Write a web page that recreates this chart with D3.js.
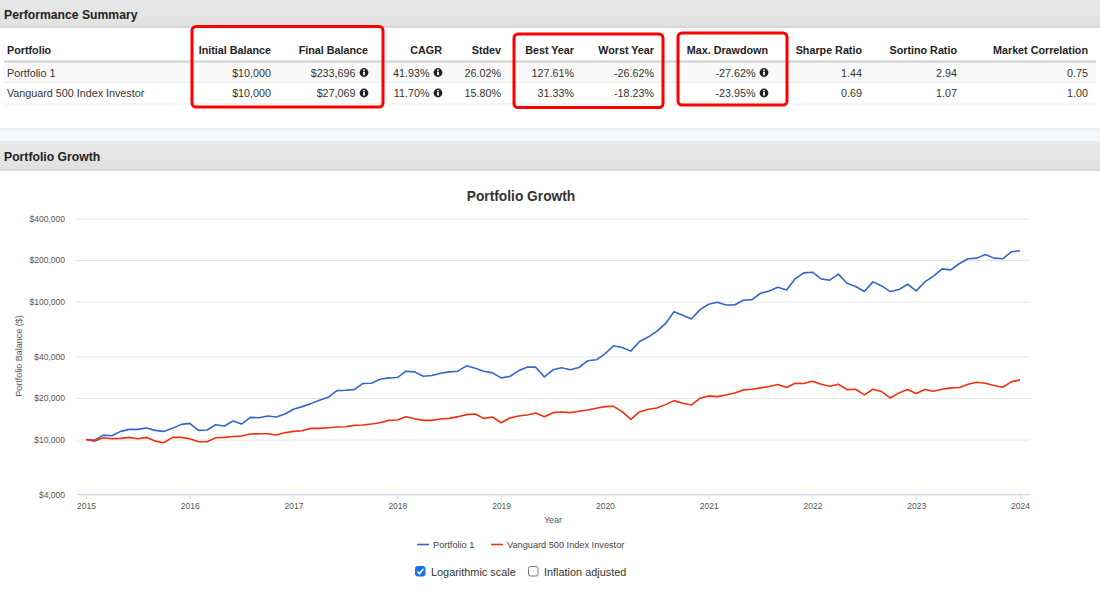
<!DOCTYPE html>
<html lang="en">
<head>
<meta charset="UTF-8">
<title>Portfolio Growth</title>
<script src="https://d3js.org/d3.v7.min.js"></script>
<style>
  html, body { margin: 0; padding: 0; background: #fff; overflow: hidden; }
  svg { display: block; font-family: "Liberation Sans", Arial, sans-serif; }
</style>
</head>
<body>
<script>
// summary table
var columns = ["Portfolio", "Initial Balance", "Final Balance", "CAGR", "Stdev", "Best Year", "Worst Year", "Max. Drawdown", "Sharpe Ratio", "Sortino Ratio", "Market Correlation"];
var rowPortfolio = ["Portfolio 1", "$10,000", "$233,696", "41.93%", "26.02%", "127.61%", "-26.62%", "-27.62%", "1.44", "2.94", "0.75"];
var rowVanguard = ["Vanguard 500 Index Investor", "$10,000", "$27,069", "11.70%", "15.80%", "31.33%", "-18.23%", "-23.95%", "0.69", "1.07", "1.00"];
var infoColumns = ["Final Balance", "CAGR", "Max. Drawdown"];

// chart, monthly balances from Jan 2015 to Jan 2024
var years = [2015, 2016, 2017, 2018, 2019, 2020, 2021, 2022, 2023, 2024];
var balanceTicks = [4000, 10000, 20000, 40000, 100000, 200000, 400000];
var portfolio1 = [
  10000, 9916, 10780, 10663, 11465, 11856, 11860, 12120, 11660, 11465, 12060, 12890,
  13110, 11660, 11725, 12820, 12540, 13630, 12960, 14490, 14410, 14820, 14570, 15320,
  16570, 17330, 18220, 19270, 20260, 22650, 22780, 23030, 25470, 25610, 27380, 28000,
  28160, 31310, 30960, 28800, 29120, 30280, 30960, 31310, 34230, 32920, 31310, 30450,
  28000, 28630, 31480, 33480, 33480, 28470, 32020, 33110, 32020, 33290, 37220, 37850,
  41850, 47850, 46530, 43760, 51450, 55320, 60820, 69160, 84540, 79510, 74780, 87430,
  95600, 98850, 94530, 94530, 102200, 103400, 114900, 119500, 127000, 121500, 146100, 161500,
  163300, 146100, 142900, 158000, 135900, 128500, 118200, 138900, 129900, 118200, 122200, 133600,
  119500, 138900, 152800, 172700, 169800, 188800, 204200, 206500, 219600, 206500, 204200, 229600,
  233696
];
var vanguard500 = [
  10000, 9750, 10310, 10140, 10200, 10370, 10140, 10370, 9750, 9484, 10370, 10370,
  10140, 9643, 9643, 10310, 10370, 10540, 10600, 10965, 11030, 11030, 10780, 11210,
  11465, 11590, 12060, 12060, 12190, 12330, 12400, 12680, 12750, 12960, 13250, 13780,
  13860, 14660, 14170, 13780, 13780, 14090, 14250, 14660, 15160, 15320, 14250, 14570,
  13250, 14330, 14820, 15070, 15580, 14660, 15670, 15850, 15670, 16030, 16390, 16850,
  17330, 17420, 15940, 14020, 15850, 16570, 16940, 17920, 19160, 18320, 17820, 19920,
  20720, 20490, 21070, 21780, 22910, 23160, 23690, 24220, 25050, 23820, 25610, 25470,
  26480, 25190, 24360, 25190, 23030, 23160, 21070, 23160, 22280, 20030, 21780, 23030,
  21540, 23030, 22400, 23160, 23690, 23820, 25190, 26040, 25610, 24630, 23950, 26190,
  27069
];

var width = 1100, height = 592;
var svg = d3.select("body").append("svg").attr("width", width).attr("height", height);

var defs = svg.append("defs");
var grad = defs.append("linearGradient").attr("id", "bar").attr("x1", 0).attr("x2", 0).attr("y1", 0).attr("y2", 1);
grad.append("stop").attr("offset", "0%").attr("stop-color", "#e8e8e8");
grad.append("stop").attr("offset", "100%").attr("stop-color", "#e1e1e1");

function section_bar(y, h, title) {
  svg.append("rect").attr("x", 0).attr("y", y).attr("width", width).attr("height", h).attr("fill", "url(#bar)");
  svg.append("line").attr("x1", 0).attr("x2", width).attr("y1", y + h).attr("y2", y + h)
    .attr("stroke", "#d0d0d0").attr("stroke-width", 1.5);
  svg.append("text").attr("x", 4).attr("y", y + h / 2 + 5)
    .attr("font-size", 12.2).attr("font-weight", "bold").attr("fill", "#222").text(title);
}

section_bar(0, 27, "Performance Summary");
svg.append("rect").attr("x", 0).attr("y", 129).attr("width", width).attr("height", 13).attr("fill", "#f5f7f9");
svg.append("line").attr("x1", 0).attr("x2", width).attr("y1", 129).attr("y2", 129).attr("stroke", "#e2e2e2");
svg.append("line").attr("x1", 0).attr("x2", width).attr("y1", 142).attr("y2", 142).attr("stroke", "#d8d8d8");
section_bar(142.5, 27.5, "Portfolio Growth");

// table
var colRight = [7, 271, 368, 442, 501, 574, 654, 768, 862, 957, 1088];
var rowCenters = [72.5, 93];

svg.append("rect").attr("x", 4).attr("y", 62.5).attr("width", 1092).attr("height", 20).attr("fill", "#f9f9f9");
svg.append("line").attr("x1", 4).attr("x2", 1096).attr("y1", 61.5).attr("y2", 61.5).attr("stroke", "#cfcfcf").attr("stroke-width", 2);
svg.append("line").attr("x1", 4).attr("x2", 1096).attr("y1", 82.5).attr("y2", 82.5).attr("stroke", "#ececec");
svg.append("line").attr("x1", 4).attr("x2", 1096).attr("y1", 104).attr("y2", 104).attr("stroke", "#ececec");

svg.append("g").selectAll("text").data(columns).enter().append("text")
  .attr("x", function (d, i) { return colRight[i]; })
  .attr("y", 54)
  .attr("text-anchor", function (d, i) { return i == 0 ? "start" : "end"; })
  .attr("font-size", 10.75).attr("font-weight", "bold").attr("fill", "#222")
  .text(function (d) { return d; });

function info_icon(g, x, y) {
  g.append("circle").attr("cx", x).attr("cy", y).attr("r", 4.4).attr("fill", "#222");
  g.append("rect").attr("x", x - 0.9).attr("y", y - 0.8).attr("width", 1.8).attr("height", 3.4).attr("fill", "#fff");
  g.append("rect").attr("x", x - 0.9).attr("y", y - 3).attr("width", 1.8).attr("height", 1.4).attr("fill", "#fff");
}

[rowPortfolio, rowVanguard].forEach(function (row, r) {
  var g = svg.append("g");
  row.forEach(function (val, i) {
    var hasInfo = infoColumns.indexOf(columns[i]) >= 0;
    g.append("text")
      .attr("x", colRight[i] - (hasInfo ? 12.5 : 0))
      .attr("y", rowCenters[r] + 4)
      .attr("text-anchor", i == 0 ? "start" : "end")
      .attr("font-size", 10.75).attr("fill", "#333")
      .text(val);
    if (hasInfo) info_icon(g, colRight[i] - 4, rowCenters[r]);
  });
});

// red highlight boxes
var highlights = [[192, 26.5, 191, 80.5], [514, 34, 149, 73.5], [678, 33, 109, 72]];
svg.append("g").selectAll("rect").data(highlights).enter().append("rect")
  .attr("x", function (d) { return d[0]; })
  .attr("y", function (d) { return d[1]; })
  .attr("width", function (d) { return d[2]; })
  .attr("height", function (d) { return d[3]; })
  .attr("rx", 4).attr("fill", "none").attr("stroke", "#f00").attr("stroke-width", 3);

// chart
var x = d3.scaleLinear().domain([2015, 2024]).range([86, 1020]);
var y = d3.scaleLog().domain([4000, 400000]).range([494.5, 218.5]);
var plotLeft = 77, plotRight = 1030;

svg.append("text").attr("x", 521).attr("y", 201).attr("text-anchor", "middle")
  .attr("font-size", 13.75).attr("font-weight", "bold").attr("fill", "#333").text("Portfolio Growth");

var yAxis = svg.append("g").attr("transform", "translate(" + plotLeft + ",0)")
  .call(d3.axisLeft(y).tickValues(balanceTicks)
    .tickFormat(function (d) { return "$" + d3.format(",")(d); })
    .tickSize(-(plotRight - plotLeft)).tickPadding(12));
yAxis.select(".domain").remove();
yAxis.selectAll("line").attr("stroke", "#e6e6e6");
yAxis.selectAll("text").attr("font-size", 8.5).attr("font-family", "inherit").attr("fill", "#555");

var xAxis = svg.append("g").attr("transform", "translate(0,494.5)")
  .call(d3.axisBottom(x).tickValues(years).tickFormat(d3.format("d")).tickSize(5).tickPadding(3));
xAxis.select(".domain").attr("d", "M" + plotLeft + ",0H" + plotRight).attr("stroke", "#ccd6eb");
xAxis.selectAll("line").attr("stroke", "#ccd6eb");
xAxis.selectAll("text").attr("font-size", 8.5).attr("font-family", "inherit").attr("fill", "#555");

svg.append("text").attr("x", 553).attr("y", 523).attr("text-anchor", "middle")
  .attr("font-size", 9).attr("fill", "#555").text("Year");
svg.append("text").attr("transform", "translate(22,356) rotate(-90)").attr("text-anchor", "middle")
  .attr("font-size", 9).attr("fill", "#555").text("Portfolio Balance ($)");

var line = d3.line()
  .x(function (d, i) { return x(2015 + i / 12); })
  .y(function (d) { return y(d); });

var seriesList = [
  { name: "Portfolio 1", values: portfolio1, color: "#3366cc", lx: 417 },
  { name: "Vanguard 500 Index Investor", values: vanguard500, color: "#f0300f", lx: 491 }
];
seriesList.forEach(function (s) {
  svg.append("path").datum(s.values).attr("d", line)
    .attr("fill", "none").attr("stroke", s.color).attr("stroke-width", 1.6).attr("stroke-linejoin", "round");
  svg.append("line").attr("x1", s.lx).attr("x2", s.lx + 12).attr("y1", 544.5).attr("y2", 544.5)
    .attr("stroke", s.color).attr("stroke-width", 1.6);
  svg.append("text").attr("x", s.lx + 16).attr("y", 548)
    .attr("font-size", 9.2).attr("fill", "#444").text(s.name);
});

// the two option checkboxes under the legend
function checkbox(bx, label, checked) {
  svg.append("rect").attr("x", bx + 0.5).attr("y", 566.5).attr("width", 9.5).attr("height", 9.5).attr("rx", 2)
    .attr("fill", checked ? "#1a73e8" : "#fff").attr("stroke", checked ? "#1a73e8" : "#777");
  if (checked) {
    svg.append("path").attr("d", "M" + (bx + 2.5) + ",571.5l2,2.2l3.8,-4.6")
      .attr("fill", "none").attr("stroke", "#fff").attr("stroke-width", 1.6);
  }
  svg.append("text").attr("x", bx + 16).attr("y", 576)
    .attr("font-size", 10.9).attr("fill", "#333").text(label);
}
checkbox(415, "Logarithmic scale", true);
checkbox(528, "Inflation adjusted", false);
</script>
</body>
</html>
